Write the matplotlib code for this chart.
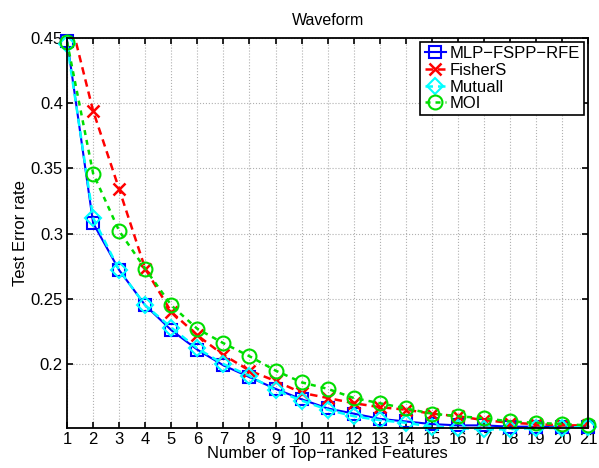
import matplotlib
matplotlib.use("Agg")
from matplotlib import pyplot as plt

plt.rcParams['font.family'] = ['Liberation Sans', 'DejaVu Sans']

# number of top-ranked features used
n_features = list(range(1, 22))

# test error rate for each ranking method
mlp_fspp_rfe = [0.448, 0.308, 0.272, 0.245, 0.226, 0.211, 0.199, 0.190, 0.181, 0.173,
                0.166, 0.162, 0.158, 0.156, 0.154, 0.153, 0.153, 0.152, 0.152, 0.152, 0.152]
fisher_s = [0.474, 0.394, 0.334, 0.273, 0.240, 0.222, 0.207, 0.195, 0.187, 0.178,
            0.174, 0.170, 0.167, 0.165, 0.162, 0.160, 0.157, 0.155, 0.154, 0.153, 0.153]
mutual_i = [0.445, 0.312, 0.272, 0.245, 0.228, 0.212, 0.200, 0.191, 0.180, 0.172,
            0.165, 0.160, 0.157, 0.155, 0.152, 0.151, 0.150, 0.150, 0.151, 0.151, 0.152]
moi = [0.447, 0.346, 0.302, 0.273, 0.245, 0.227, 0.216, 0.206, 0.195, 0.186,
       0.181, 0.174, 0.170, 0.166, 0.162, 0.160, 0.1585, 0.156, 0.155, 0.154, 0.153]

fig = plt.figure(figsize=(5.99, 4.68), dpi=100)
ax = fig.add_axes([0.112, 0.0855, 0.87, 0.8335])

ax.plot(n_features, mlp_fspp_rfe, color='blue', linestyle='-', lw=1.5,
        marker='s', ms=8, mfc='none', mew=1.5, label='MLP\u2212FSPP\u2212RFE', clip_on=False)
ax.plot(n_features, fisher_s, color='red', linestyle=(0, (3, 2)), lw=1.8,
        marker='x', ms=8, mew=1.8, label='FisherS')
ax.plot(n_features, mutual_i, color='cyan', linestyle=(0, (3, 2)), lw=1.8,
        marker='D', ms=8, mfc='none', mew=1.5, label='Mutuall', clip_on=False)
ax.plot(n_features, moi, color='#00dd00', linestyle=(0, (2, 2)), lw=1.8,
        marker='o', ms=10, mfc='none', mew=1.5, label='MOI', clip_on=False)

ax.set_xlim(1, 21)
ax.set_ylim(0.151, 0.45)
ax.set_xticks(n_features)
ax.set_yticks([0.2, 0.25, 0.3, 0.35, 0.4, 0.45])
ax.set_yticklabels(['0.2', '0.25', '0.3', '0.35', '0.4', '0.45'])
ax.tick_params(direction='in', labelsize=12, length=4, width=1.2, top=True, right=True, pad=3)
ax.grid(True, linestyle=':', color='#b0b0b0', lw=0.8)
for s in ax.spines.values():
    s.set_linewidth(1.3)

ax.set_title('Waveform', fontsize=11.5, pad=9)
ax.set_xlabel('Number of Top\u2212ranked Features', fontsize=12, labelpad=-1)
ax.set_ylabel('Test Error rate', fontsize=12, labelpad=2)

leg = ax.legend(loc='upper right', fontsize=12, handlelength=1.3, handletextpad=0.2,
                borderpad=0.25, labelspacing=0.1, fancybox=False, framealpha=1,
                borderaxespad=0.25)
leg.get_frame().set_edgecolor('black')
leg.get_frame().set_linewidth(1.2)

fig.savefig('out.png', dpi=100)
